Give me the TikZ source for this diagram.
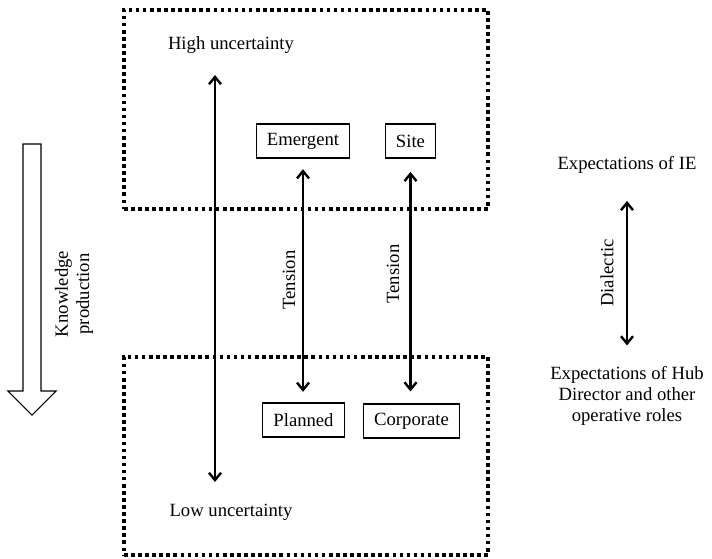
\documentclass[tikz,border=0pt]{standalone}
\usepackage{fontspec}
\setmainfont{Liberation Serif}
\usetikzlibrary{positioning,fit,backgrounds,arrows.meta}

\begin{document}
\begin{tikzpicture}[x=0.75pt,y=-0.75pt]

	\tikzstyle{every node}=[font=\fontsize{14}{16}\selectfont]
	\tikzstyle{zone}=[rectangle,draw=black,line width=2.7pt,dash pattern=on 2.7pt off 2.6pt,inner sep=0pt]
	\tikzstyle{term}=[rectangle,draw=black,line width=0.8pt,minimum height=25.5pt,inner xsep=8pt]
	\tikzstyle{twoway}=[<->,>={Straight Barb[length=5.5pt,width=9pt]},line width=1.8pt]

	\useasboundingbox (0,0) rectangle (712,558);

	% the two zones
	\coordinate (uppertl) at (124,10);
	\coordinate (upperbr) at (488,209);
	\coordinate (lowertl) at (124,357);
	\coordinate (lowerbr) at (488,555);
	\node[zone,fit=(uppertl) (upperbr)] (upperzone) {};
	\node[zone,fit=(lowertl) (lowerbr)] (lowerzone) {};

	\node (high) at (231,45) {High uncertainty};
	\node (low) at (231,512) {Low uncertainty};
	\coordinate (hightip) at (215,75);
	\coordinate (lowtip) at (215,482);
	\draw[twoway] (hightip) -- (lowtip);

	\node[term] (emergent) at (303,141) {Emergent};
	\node[term] (site) at (410.5,141) {Site};
	\node[term] (planned) at (303.5,420) {Planned};
	\node[term] (corporate) at (411.5,421) {Corporate};

	\draw[twoway,shorten <=8pt,shorten >=8pt] (emergent.south) -- (emergent.south |- planned.north);
	\draw[twoway,shorten <=10pt,shorten >=9pt] (site.south) -- (site.south |- corporate.north);
	\node[rotate=90] (tension1) at (289,280) {Tension};
	\node[rotate=90] (tension2) at (393,274) {Tension};

	% right hand side
	\node (ie) at (627,165) {Expectations of IE};
	\node[align=center] (hub) at (627,396) {Expectations of Hub\\Director and other\\operative roles};
	\draw[twoway,shorten <=17pt,shorten >=12pt] (ie.south) -- (hub.north);
	\node[rotate=90] (dialectic) at (607,273) {Dialectic};

	% knowledge production
	\draw[line width=0.8pt] (23,144) -- (41,144) -- (41,391) -- (56,391) -- (32,415) -- (8,391) -- (23,391) -- cycle;
	\node[rotate=90,align=center] (knowledge) at (74,294) {Knowledge\\production};

\end{tikzpicture}
\end{document}
